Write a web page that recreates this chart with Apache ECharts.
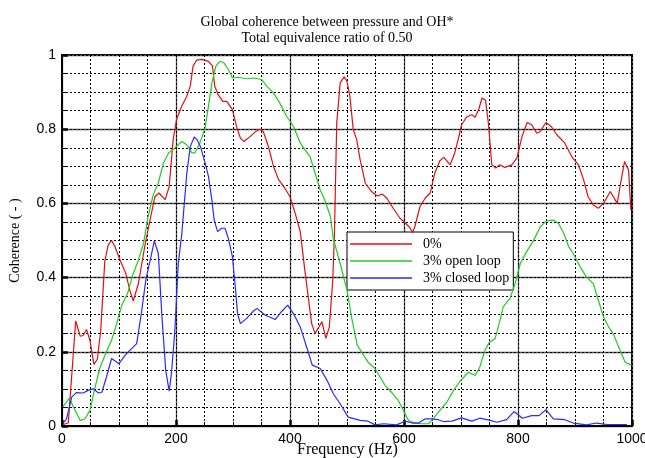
<!DOCTYPE html>
<html>
<head>
<meta charset="utf-8">
<script src="https://cdn.jsdelivr.net/npm/echarts@6/dist/echarts.min.js"></script>
<style>
  html, body { margin: 0; padding: 0; background: #fff; }
  #main { width: 645px; height: 458px; }
</style>
</head>
<body>
<div id="main"></div>
<script>
// 0% (red): [frequency Hz, coherence]
const red0 = [
  [2, 0.004], [11, 0.008], [24, 0.283], [32, 0.242], [37, 0.244], [43, 0.26], [49, 0.231],
  [56, 0.166], [62, 0.18], [68, 0.258], [75, 0.443], [81, 0.488], [87, 0.50], [93, 0.483],
  [102, 0.447], [112, 0.411], [119, 0.366], [125, 0.337], [134, 0.384], [140, 0.438],
  [147, 0.50], [163, 0.618], [170, 0.628], [181, 0.61], [188, 0.645], [195, 0.772],
  [201, 0.826], [210, 0.862], [219, 0.889], [225, 0.916], [230, 0.97], [236, 0.986],
  [245, 0.988], [257, 0.983], [264, 0.97], [268, 0.916], [274, 0.893], [282, 0.875],
  [289, 0.875], [299, 0.853], [306, 0.808], [313, 0.776], [319, 0.767], [330, 0.78],
  [340, 0.794], [347, 0.80], [353, 0.794], [362, 0.754], [371, 0.70], [380, 0.664],
  [391, 0.641], [400, 0.618], [409, 0.574], [418, 0.524], [426, 0.42], [432, 0.348],
  [438, 0.276], [444, 0.249], [456, 0.281], [463, 0.236], [469, 0.267], [475, 0.393],
  [478, 0.52], [482, 0.817], [488, 0.925], [495, 0.941], [500, 0.929], [505, 0.889],
  [511, 0.799], [517, 0.772], [523, 0.718], [532, 0.655], [543, 0.632], [553, 0.62],
  [562, 0.625], [570, 0.614], [581, 0.587], [593, 0.56], [602, 0.548], [611, 0.533],
  [615, 0.521], [619, 0.537], [628, 0.591], [637, 0.614], [646, 0.628], [654, 0.682],
  [663, 0.715], [670, 0.724], [681, 0.704], [689, 0.736], [695, 0.772], [701, 0.812],
  [710, 0.833], [719, 0.839], [725, 0.832], [731, 0.853], [737, 0.884], [743, 0.878],
  [748, 0.817], [754, 0.704], [761, 0.695], [768, 0.704], [777, 0.697], [789, 0.704],
  [798, 0.722], [807, 0.78], [816, 0.818], [824, 0.812], [833, 0.789], [839, 0.794],
  [849, 0.818], [859, 0.806], [868, 0.785], [882, 0.763], [894, 0.727], [906, 0.704],
  [915, 0.664], [923, 0.618], [932, 0.596], [941, 0.587], [950, 0.60], [962, 0.632],
  [974, 0.60], [982, 0.672], [987, 0.713], [994, 0.69], [998, 0.582]
];

// 3% open loop (green)
const green3open = [
  [2, 0.053], [13, 0.075], [20, 0.051], [32, 0.015], [40, 0.019], [49, 0.042], [58, 0.105],
  [67, 0.159], [78, 0.20], [87, 0.231], [96, 0.276], [105, 0.326], [115, 0.357],
  [124, 0.407], [134, 0.447], [143, 0.492], [151, 0.564], [160, 0.623], [169, 0.655],
  [178, 0.709], [187, 0.736], [195, 0.745], [210, 0.767], [219, 0.758], [228, 0.736],
  [233, 0.736], [242, 0.763], [251, 0.803], [257, 0.862], [263, 0.925], [270, 0.97],
  [277, 0.983], [284, 0.979], [292, 0.961], [299, 0.938], [309, 0.94], [324, 0.936],
  [336, 0.938], [350, 0.934], [359, 0.916], [371, 0.898], [382, 0.871], [394, 0.835],
  [406, 0.808], [418, 0.763], [426, 0.745], [435, 0.727], [444, 0.682], [453, 0.636],
  [461, 0.609], [471, 0.564], [476, 0.505], [488, 0.438], [500, 0.366], [509, 0.285],
  [518, 0.218], [529, 0.191], [537, 0.172], [549, 0.155], [558, 0.132], [567, 0.109],
  [578, 0.091], [590, 0.069], [599, 0.042], [608, 0.015], [616, 0.01], [631, 0.006],
  [643, 0.006], [651, 0.019], [663, 0.042], [675, 0.064], [687, 0.096], [698, 0.12],
  [713, 0.145], [725, 0.136], [733, 0.159], [742, 0.204], [750, 0.226], [760, 0.236],
  [767, 0.276], [774, 0.321], [786, 0.344], [795, 0.384], [804, 0.438], [815, 0.47],
  [827, 0.499], [839, 0.537], [850, 0.553], [862, 0.555], [871, 0.546], [880, 0.52],
  [889, 0.483], [897, 0.465], [909, 0.429], [920, 0.402], [932, 0.384], [941, 0.339],
  [950, 0.294], [959, 0.267], [967, 0.249], [979, 0.204], [988, 0.172], [999, 0.164]
];

// 3% closed loop (blue)
const blue3closed = [
  [2, 0.008], [8, 0.019], [17, 0.078], [25, 0.09], [37, 0.089], [46, 0.096], [55, 0.10],
  [64, 0.089], [70, 0.091], [78, 0.132], [87, 0.182], [100, 0.168], [111, 0.191],
  [119, 0.204], [131, 0.222], [140, 0.312], [147, 0.393], [156, 0.456], [162, 0.499],
  [169, 0.465], [175, 0.303], [182, 0.15], [188, 0.094], [192, 0.141], [198, 0.258],
  [204, 0.438], [210, 0.515], [219, 0.682], [225, 0.753], [232, 0.779], [237, 0.772],
  [243, 0.753], [251, 0.709], [257, 0.672], [263, 0.609], [267, 0.555], [273, 0.524],
  [280, 0.533], [286, 0.533], [292, 0.505], [299, 0.456], [304, 0.375], [308, 0.303],
  [313, 0.276], [324, 0.29], [336, 0.31], [342, 0.317], [356, 0.299], [374, 0.287],
  [385, 0.308], [396, 0.326], [406, 0.303], [418, 0.267], [430, 0.209], [439, 0.164],
  [453, 0.155], [465, 0.123], [476, 0.087], [488, 0.06], [502, 0.024], [523, 0.015],
  [537, 0.013], [549, 0.003], [564, 0.006], [587, 0.003], [602, 0.013], [614, 0.008],
  [625, 0.008], [637, 0.019], [649, 0.019], [660, 0.017], [669, 0.012], [684, 0.013],
  [701, 0.022], [719, 0.013], [733, 0.021], [751, 0.015], [763, 0.01], [780, 0.017],
  [793, 0.039], [808, 0.021], [824, 0.028], [837, 0.028], [849, 0.044], [862, 0.019],
  [882, 0.017], [897, 0.008], [920, 0.003], [938, 0.008], [956, 0.004], [991, 0.004]
];

const seriesNames = ['0%', '3% open loop', '3% closed loop'];
const seriesColors = ['#e01010', '#20cc20', '#2a2aff'];
const seriesData = [red0, green3open, blue3closed];

const chart = echarts.init(document.getElementById('main'));

const serif = 'Liberation Serif';
const sans = 'Liberation Sans';

const majorAxis = (extra) => Object.assign({
  type: 'value',
  axisLine: { show: true, onZero: false, lineStyle: { color: '#000', width: 2 } },
  axisTick: { show: true, inside: true, length: 6, lineStyle: { color: '#000', width: 2.5 } },
  splitLine: { show: true, lineStyle: { color: '#555', width: 1.3, type: 'solid' } },
  axisLabel: { color: '#000', fontFamily: sans, fontSize: 14, margin: 6, formatter: v => String(v) }
}, extra);

const minorAxis = (extra) => Object.assign({
  type: 'value',
  axisLine: { show: false },
  axisTick: { show: true, inside: true, length: 4, lineStyle: { color: '#000', width: 1 } },
  splitLine: { show: true, lineStyle: { color: '#000', width: 1, type: [2, 2] } },
  axisLabel: { show: false }
}, extra);

chart.setOption({
  backgroundColor: '#fff',
  animation: false,
  title: {
    text: 'Global coherence between pressure and OH*\nTotal equivalence ratio of 0.50',
    left: 322,
    textAlign: 'center',
    top: 9,
    textStyle: { fontFamily: serif, fontSize: 14, fontWeight: 'normal', color: '#000', lineHeight: 16 }
  },
  grid: {
    left: 62, right: 13, top: 55, bottom: 32,
    containLabel: false,
    outerBoundsMode: 'none',
    show: true, borderColor: '#000', borderWidth: 2, backgroundColor: 'transparent'
  },
  // x axis title, placed by hand just below the tick labels
  graphic: [{
    type: 'text',
    left: 297,
    top: 442,
    style: { text: 'Frequency (Hz)', fontFamily: serif, fontSize: 16, fill: '#000' }
  }],
  legend: {
    orient: 'vertical',
    left: 347, top: 232,
    data: seriesNames,
    icon: 'rect',
    backgroundColor: '#fff',
    borderColor: '#000',
    borderWidth: 1,
    padding: [5, 4, 5, 3],
    itemWidth: 62,
    itemHeight: 1.3,
    itemGap: 3,
    textStyle: { fontFamily: serif, fontSize: 14, color: '#000', padding: [0, 0, 0, 6], lineHeight: 14 }
  },
  xAxis: [
    majorAxis({ min: 0, max: 1000, interval: 200 }),
    minorAxis({ min: 0, max: 1000, interval: 50, position: 'bottom' })
  ],
  yAxis: [
    majorAxis({
      min: 0, max: 1, interval: 0.2,
      name: 'Coherence ( - )', nameLocation: 'middle', nameGap: 40,
      nameTextStyle: { fontFamily: serif, fontSize: 14, color: '#000' }
    }),
    minorAxis({ min: 0, max: 1, interval: 0.05, position: 'left' })
  ],
  series: seriesNames.map((name, i) => ({
    name: name,
    type: 'line',
    xAxisIndex: 0,
    yAxisIndex: 0,
    data: seriesData[i],
    symbol: 'none',
    z: 5,
    lineStyle: { color: seriesColors[i], width: 1.2 },
    itemStyle: { color: seriesColors[i] }
  }))
});
</script>
</body>
</html>
